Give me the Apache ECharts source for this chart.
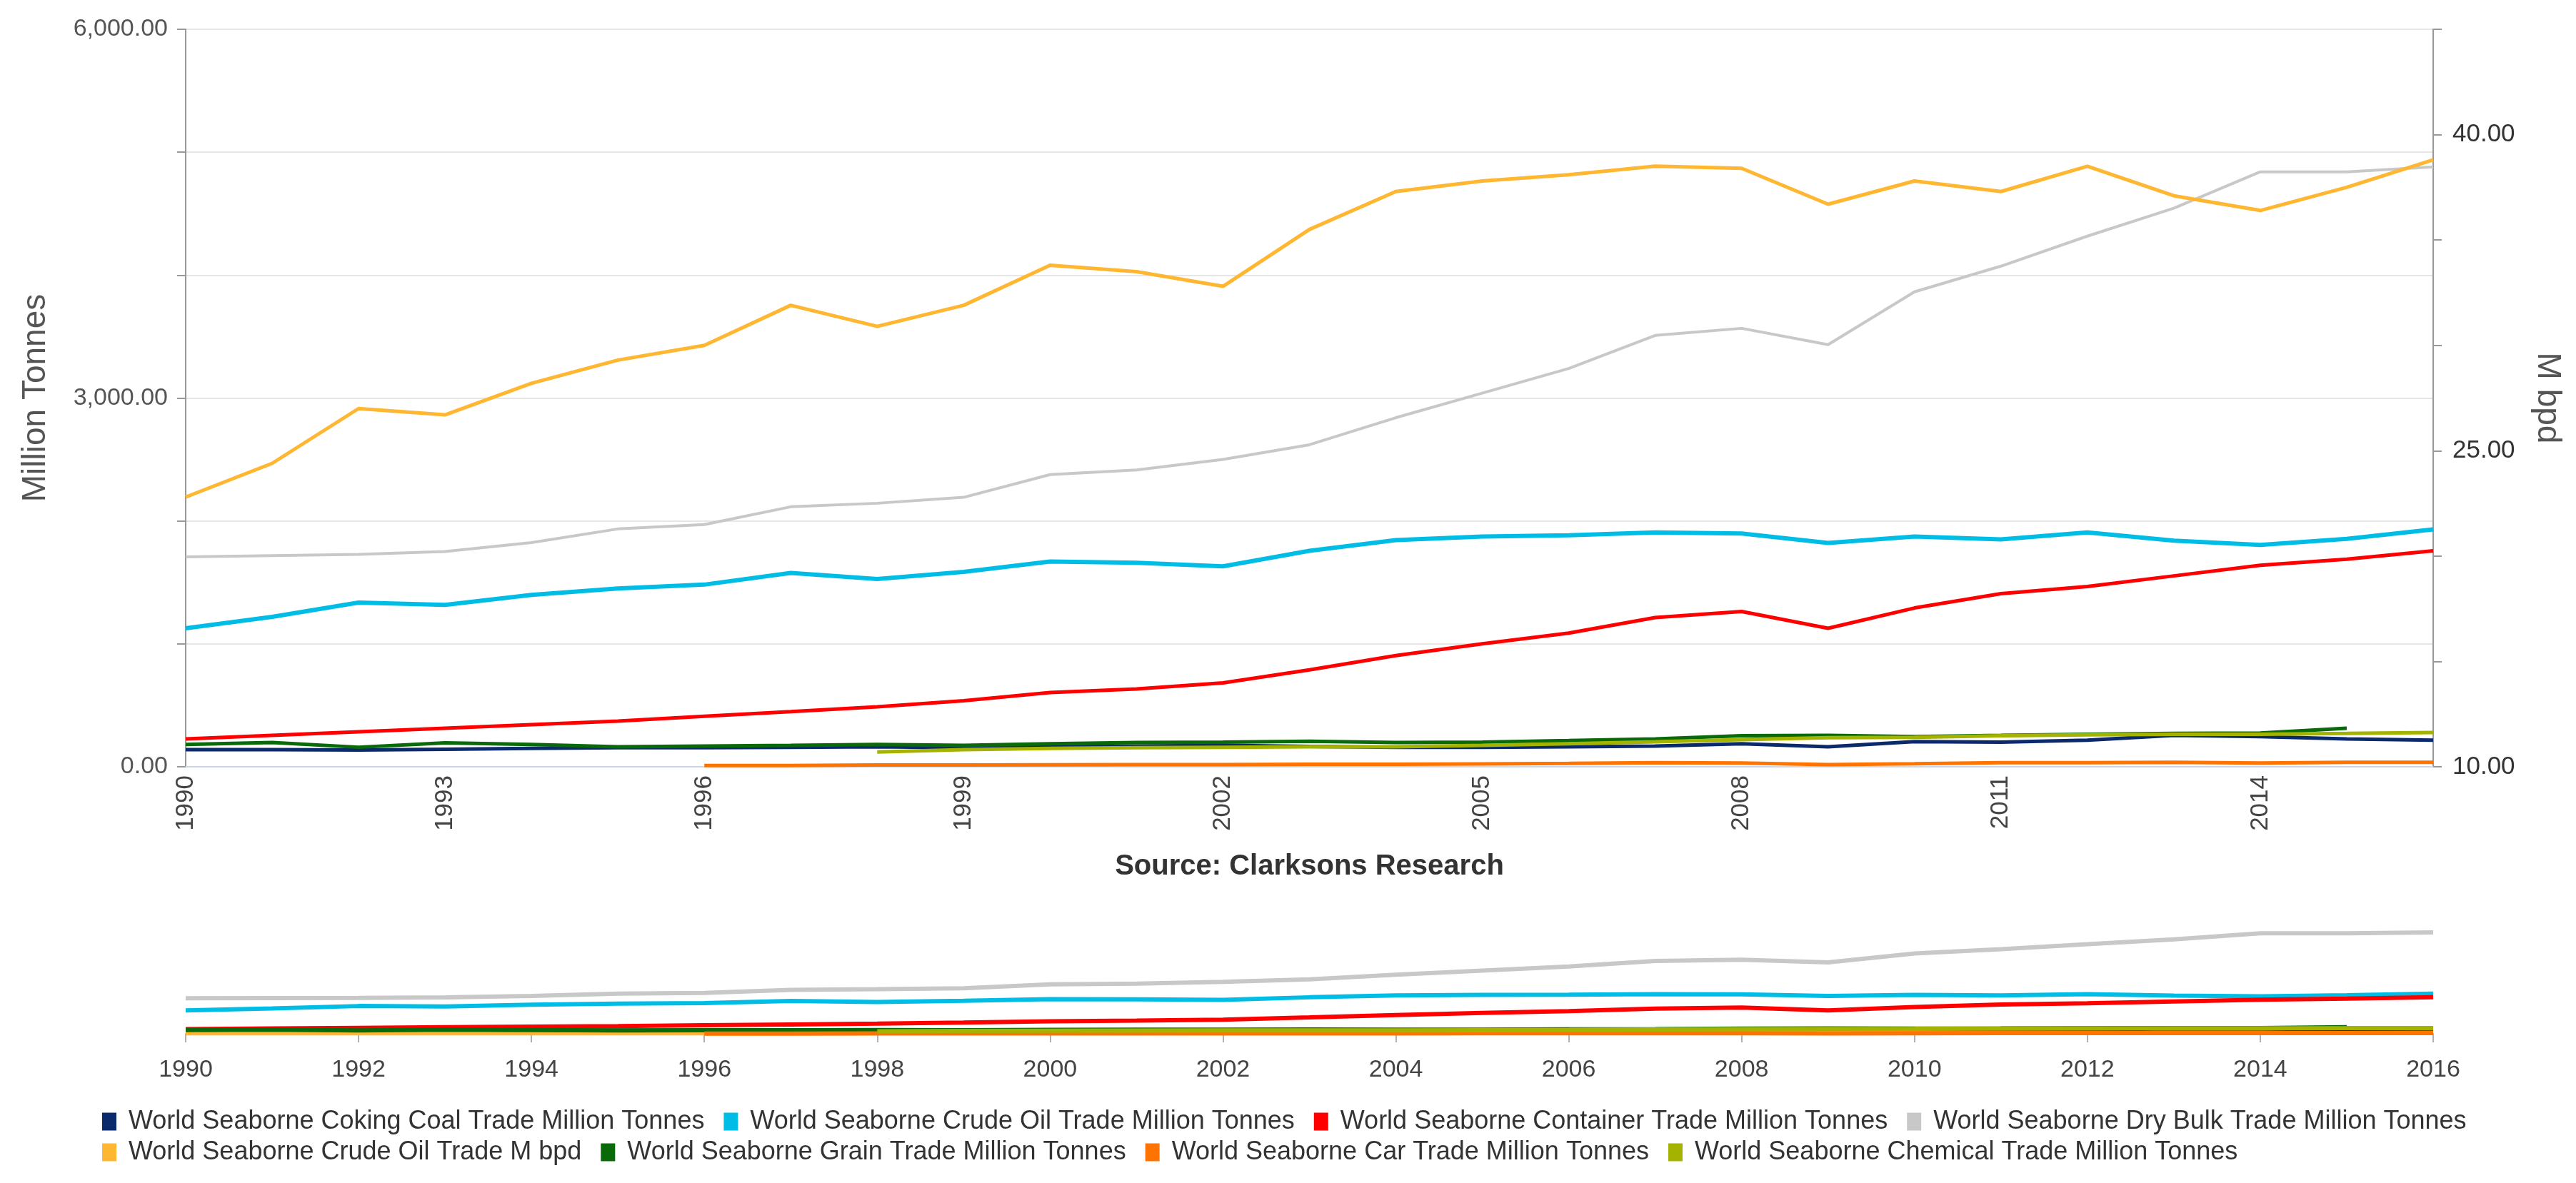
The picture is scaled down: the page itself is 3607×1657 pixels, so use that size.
<!DOCTYPE html>
<html>
<head>
<meta charset="utf-8">
<script src="https://cdn.jsdelivr.net/npm/echarts@6/dist/echarts.min.js"></script>
<style>
html,body{margin:0;padding:0;background:#fff;}
#c{width:3607px;height:1657px;}
</style>
</head>
<body>
<div id="c"></div>
<script>
const years = ['1990','1991','1992','1993','1994','1995','1996','1997','1998','1999','2000','2001','2002','2003','2004','2005','2006','2007','2008','2009','2010','2011','2012','2013','2014','2015','2016'];

const cokingCoal = [139,139,136,143,149,155,155,159,163,155,163,169,174,165,159,159,162,169,188,163,205,201,217,256,246,227,217];
const crudeOilMt = [1127,1220,1336,1317,1398,1451,1482,1577,1528,1586,1670,1660,1631,1757,1844,1873,1883,1906,1898,1821,1873,1850,1906,1840,1805,1854,1931];
const container = [227,256,285,314,343,372,411,449,488,537,604,633,682,788,905,1001,1088,1214,1263,1127,1292,1408,1466,1553,1640,1689,1757];
const dryBulk = [1708,1718,1728,1751,1824,1935,1970,2115,2144,2192,2377,2415,2500,2620,2840,3040,3240,3509,3567,3434,3864,4073,4317,4544,4840,4840,4880];
const crudeOilBpd = [22.8,24.4,27.0,26.7,28.2,29.3,30.0,31.9,30.9,31.9,33.8,33.5,32.8,35.5,37.3,37.8,38.1,38.5,38.4,36.7,37.8,37.3,38.5,37.1,36.4,37.5,38.8];
const grain = [182,198,159,194,182,163,169,174,182,174,188,198,201,207,198,201,213,227,252,256,246,255,265,271,275,314,null];
const car = [null,null,null,null,null,null,10,10,14,14,16,17,17,20,20,23,27,34,30,18,25,33,33,36,31,36,36];
const chemical = [null,null,null,null,null,null,null,null,120,139,149,155,159,163,163,174,188,203,221,236,240,252,260,265,265,271,279];

const names = [
  'World Seaborne Coking Coal Trade Million Tonnes',
  'World Seaborne Crude Oil Trade Million Tonnes',
  'World Seaborne Container Trade Million Tonnes',
  'World Seaborne Dry Bulk Trade Million Tonnes',
  'World Seaborne Crude Oil Trade M bpd',
  'World Seaborne Grain Trade Million Tonnes',
  'World Seaborne Car Trade Million Tonnes',
  'World Seaborne Chemical Trade Million Tonnes'
];
const colors = ['#0b2a6b','#00bde6','#ff0000','#c8c8c8','#ffb732','#0a6a0a','#ff7300','#a3b300'];
const seriesData = [cokingCoal, crudeOilMt, container, dryBulk, crudeOilBpd, grain, car, chemical];
const widths = [5,6,5,4,5,5,5,5];

const FONT = 'Liberation Sans, Arial, sans-serif';

const mainSeries = names.map((n,i)=>({
  name:n, type:'line', xAxisIndex:0, yAxisIndex: i===4 ? 1 : 0,
  data: seriesData[i], symbol:'none', connectNulls:false,
  lineStyle:{color:colors[i], width:widths[i]}, itemStyle:{color:colors[i]},
  z: 2+i
}));
const navSeries = names.map((n,i)=>({
  name:n, type:'line', xAxisIndex:1, yAxisIndex:2,
  data: seriesData[i], symbol:'none', silent:true,
  lineStyle:{color:colors[i], width:6}, itemStyle:{color:colors[i]},
  z: 2+i
}));

const legendText = {fontSize:36, color:'#333', fontFamily:FONT, padding:[0,0,0,12]};

const chart = echarts.init(document.getElementById('c'));
chart.setOption({
  animation:false,
  backgroundColor:'#fff',
  textStyle:{fontFamily:FONT},
  color: colors,
  grid:[
    {left:260, top:41, width:3147, height:1033},
    {left:260, top:1306, width:3147, height:142}
  ],
  legend:[
    {data:names.slice(0,4), left:138, top:1548, icon:'rect', itemWidth:20, itemHeight:25, itemGap:27,
     textStyle:legendText},
    {data:names.slice(4), left:138, top:1591, icon:'rect', itemWidth:20, itemHeight:25, itemGap:27,
     textStyle:legendText}
  ],
  xAxis:[
    {type:'category', gridIndex:0, data:years, boundaryGap:false,
     name:'Source: Clarksons Research', nameLocation:'middle', nameGap:120,
     nameTextStyle:{fontSize:40, fontWeight:'bold', color:'#333', fontFamily:FONT},
     axisLine:{show:true, lineStyle:{color:'#ccd6eb', width:2}},
     axisTick:{show:false},
     axisLabel:{interval:2, rotate:90, fontSize:35, color:'#444', margin:12, fontFamily:FONT},
     splitLine:{show:false}},
    {type:'category', gridIndex:1, data:years, boundaryGap:false,
     axisLine:{show:true, lineStyle:{color:'#b0b0b0', width:2}},
     axisTick:{show:true, interval:1, length:12, lineStyle:{color:'#b0b0b0', width:2}},
     axisLabel:{interval:1, fontSize:34, color:'#444', margin:34, fontFamily:FONT},
     splitLine:{show:false}}
  ],
  yAxis:[
    {type:'value', gridIndex:0, min:0, max:6000, interval:1000, position:'left',
     name:'Million Tonnes', nameLocation:'middle', nameGap:187,
     nameTextStyle:{fontSize:46, color:'#555', fontFamily:FONT},
     axisLine:{show:true, lineStyle:{color:'#999', width:2}},
     axisTick:{show:true, length:12, lineStyle:{color:'#999', width:2}},
     axisLabel:{fontSize:34, color:'#555', margin:25, fontFamily:FONT,
       formatter:v=> v%3000===0 ? v.toLocaleString('en-US',{minimumFractionDigits:2, maximumFractionDigits:2}) : ''},
     splitLine:{show:true, lineStyle:{color:'#e6e6e6', width:2}}},
    {type:'value', gridIndex:0, min:10, max:45, interval:5, position:'right',
     name:'M bpd', nameLocation:'middle', nameGap:137, nameRotate:-90,
     nameTextStyle:{fontSize:46, color:'#555', fontFamily:FONT},
     axisLine:{show:true, lineStyle:{color:'#999', width:2}},
     axisTick:{show:true, length:12, lineStyle:{color:'#999', width:2}},
     axisLabel:{fontSize:35, color:'#333', margin:27, fontFamily:FONT,
       formatter:v=> (v-10)%15===0 ? v.toFixed(2) : ''},
     splitLine:{show:false}},
    {type:'value', gridIndex:1, min:0, max:'dataMax', show:false, splitLine:{show:false}}
  ],
  series: mainSeries.concat(navSeries)
});
</script>
</body>
</html>
